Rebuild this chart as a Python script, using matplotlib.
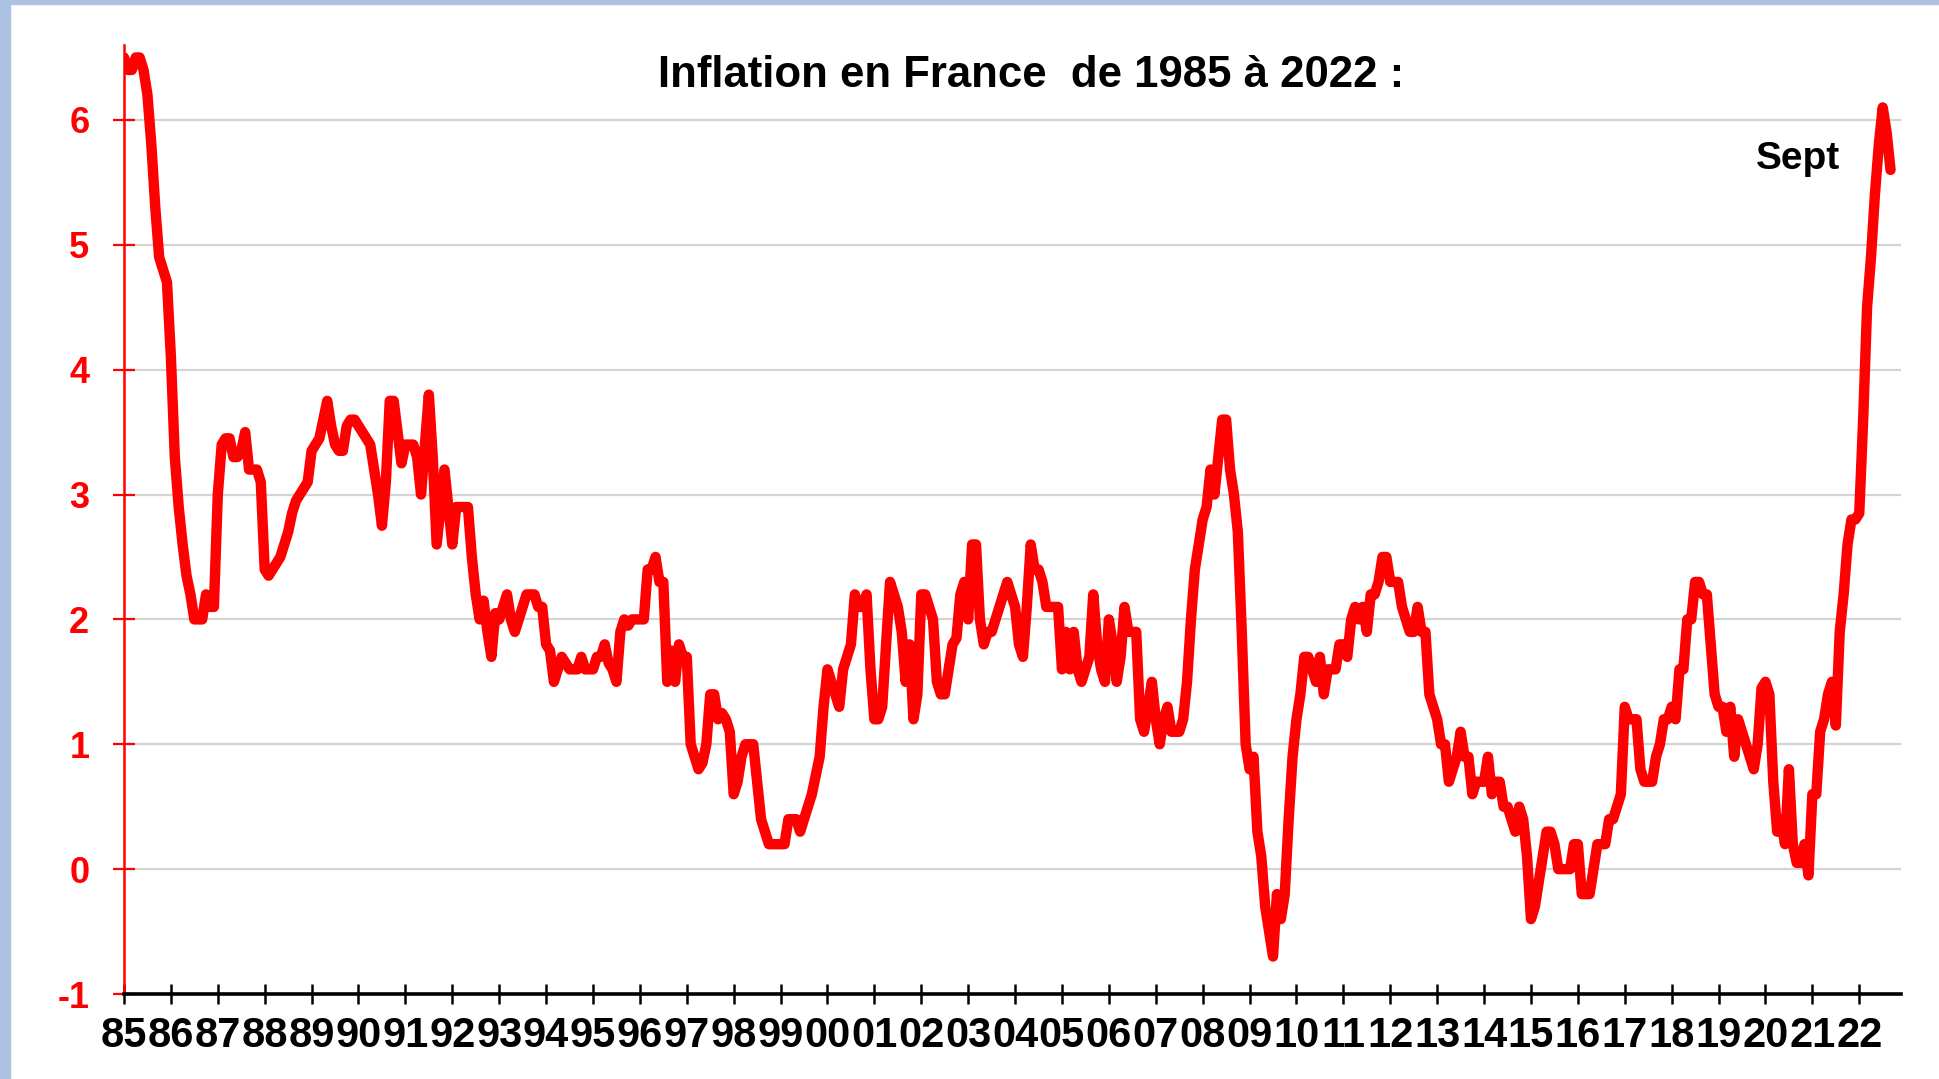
import numpy as np
import matplotlib
matplotlib.use("Agg")
import matplotlib.pyplot as plt

# Inflation mensuelle en France (glissement annuel, %), janv. 1985 -> sept. 2022
infl_1985_1989 = [
    6.5, 6.4, 6.4, 6.5, 6.5, 6.4, 6.2, 5.8, 5.3, 4.9, 4.8, 4.7,
    4.1, 3.3, 2.9, 2.6, 2.35, 2.2, 2.0, 2.0, 2.0, 2.2, 2.1, 2.1,
    3.0, 3.4, 3.45, 3.45, 3.3, 3.3, 3.35, 3.5, 3.2, 3.2, 3.2, 3.1,
    2.4, 2.35, 2.4, 2.45, 2.5, 2.6, 2.7, 2.85, 2.95, 3.0, 3.05, 3.1,
    3.35, 3.4, 3.45, 3.6, 3.75, 3.55, 3.4, 3.35, 3.35, 3.55, 3.6, 3.6,
]
infl_1990_1999 = [
    3.55, 3.5, 3.45, 3.4, 3.2, 3.0, 2.75, 3.1, 3.75, 3.75, 3.5, 3.25,
    3.4, 3.4, 3.4, 3.3, 3.0, 3.4, 3.8, 3.3, 2.6, 2.9, 3.2, 2.9,
    2.6, 2.9, 2.9, 2.9, 2.9, 2.5, 2.2, 2.0, 2.15, 1.9, 1.7, 2.05,
    2.0, 2.1, 2.2, 2.0, 1.9, 2.0, 2.1, 2.2, 2.2, 2.2, 2.1, 2.1,
    1.8, 1.75, 1.5, 1.6, 1.7, 1.65, 1.6, 1.6, 1.6, 1.7, 1.6, 1.6,
    1.6, 1.7, 1.7, 1.8, 1.65, 1.6, 1.5, 1.9, 2.0, 1.95, 2.0, 2.0,
    2.0, 2.0, 2.4, 2.4, 2.5, 2.3, 2.3, 1.5, 1.75, 1.5, 1.8, 1.7,
    1.7, 1.0, 0.9, 0.8, 0.85, 1.0, 1.4, 1.4, 1.2, 1.25, 1.2, 1.1,
    0.6, 0.7, 0.9, 1.0, 1.0, 1.0, 0.7, 0.4, 0.3, 0.2, 0.2, 0.2,
    0.2, 0.2, 0.4, 0.4, 0.4, 0.3, 0.4, 0.5, 0.6, 0.75, 0.9, 1.3,
]
infl_2000_2009 = [
    1.6, 1.5, 1.4, 1.3, 1.6, 1.7, 1.8, 2.2, 2.1, 2.1, 2.2, 1.6,
    1.2, 1.2, 1.3, 1.8, 2.3, 2.2, 2.1, 1.9, 1.5, 1.8, 1.2, 1.4,
    2.2, 2.2, 2.1, 2.0, 1.5, 1.4, 1.4, 1.6, 1.8, 1.85, 2.2, 2.3,
    2.0, 2.6, 2.6, 2.0, 1.8, 1.9, 1.9, 2.0, 2.1, 2.2, 2.3, 2.2,
    2.1, 1.8, 1.7, 2.1, 2.6, 2.4, 2.4, 2.3, 2.1, 2.1, 2.1, 2.1,
    1.6, 1.9, 1.6, 1.9, 1.6, 1.5, 1.6, 1.7, 2.2, 1.8, 1.6, 1.5,
    2.0, 1.8, 1.5, 1.7, 2.1, 1.9, 1.9, 1.9, 1.2, 1.1, 1.3, 1.5,
    1.2, 1.0, 1.2, 1.3, 1.1, 1.1, 1.1, 1.2, 1.5, 2.0, 2.4, 2.6,
    2.8, 2.9, 3.2, 3.0, 3.3, 3.6, 3.6, 3.2, 3.0, 2.7, 1.9, 1.0,
    0.8, 0.9, 0.3, 0.1, -0.3, -0.5, -0.7, -0.2, -0.4, -0.2, 0.4, 0.9,
]
infl_2010_2022 = [
    1.2, 1.4, 1.7, 1.7, 1.6, 1.5, 1.7, 1.4, 1.6, 1.6, 1.6, 1.8,
    1.8, 1.7, 2.0, 2.1, 2.0, 2.1, 1.9, 2.2, 2.2, 2.3, 2.5, 2.5,
    2.3, 2.3, 2.3, 2.1, 2.0, 1.9, 1.9, 2.1, 1.9, 1.9, 1.4, 1.3,
    1.2, 1.0, 1.0, 0.7, 0.8, 0.9, 1.1, 0.9, 0.9, 0.6, 0.7, 0.7,
    0.7, 0.9, 0.6, 0.7, 0.7, 0.5, 0.5, 0.4, 0.3, 0.5, 0.4, 0.1,
    -0.4, -0.3, -0.1, 0.1, 0.3, 0.3, 0.2, 0.0, 0.0, 0.0, 0.0, 0.2,
    0.2, -0.2, -0.2, -0.2, 0.0, 0.2, 0.2, 0.2, 0.4, 0.4, 0.5, 0.6,
    1.3, 1.2, 1.2, 1.2, 0.8, 0.7, 0.7, 0.7, 0.9, 1.0, 1.2, 1.2,
    1.3, 1.2, 1.6, 1.6, 2.0, 2.0, 2.3, 2.3, 2.2, 2.2, 1.8, 1.4,
    1.3, 1.3, 1.1, 1.3, 0.9, 1.2, 1.1, 1.0, 0.9, 0.8, 1.0, 1.45,
    1.5, 1.4, 0.7, 0.3, 0.4, 0.2, 0.8, 0.2, 0.05, 0.05, 0.2, -0.05,
    0.6, 0.6, 1.1, 1.2, 1.4, 1.5, 1.15, 1.9, 2.2, 2.6, 2.8, 2.8,
    2.85, 3.6, 4.5, 4.9, 5.4, 5.8, 6.1, 5.9, 5.6,
]

annees = list(range(1985, 2023))
etiquettes = [str(a)[2:] for a in annees]
graduations_y = [-1, 0, 1, 2, 3, 4, 5, 6]

inflation = np.array(infl_1985_1989 + infl_1990_1999 + infl_2000_2009 + infl_2010_2022)
temps = 1985 + np.arange(len(inflation)) / 12.0

ROUGE = "#ff0000"
BLEU_BORD = "#adc2e3"

fig = plt.figure(figsize=(19.39, 10.79), dpi=100)
fig.patch.set_facecolor("white")

# bordure bleue a gauche et en haut
fig.patches.append(plt.Rectangle((0, 0), 10 / 1939, 1, transform=fig.transFigure,
                                 color=BLEU_BORD, zorder=0))
fig.patches.append(plt.Rectangle((0, 1 - 4 / 1079), 1, 4 / 1079, transform=fig.transFigure,
                                 color=BLEU_BORD, zorder=0))

ax = fig.add_axes([124 / 1939, 85 / 1079, (1901 - 124) / 1939, (1034 - 85) / 1079])
ax.set_facecolor("white")

# quadrillage horizontal
for g in graduations_y[1:]:
    ax.axhline(g, color="#d4d4d4", lw=1.6, zorder=1)

ax.plot(temps, inflation, color=ROUGE, lw=7.5, solid_joinstyle="round",
        solid_capstyle="round", zorder=3)

ax.set_xlim(1985, 2022.89)
ax.set_ylim(-1, 6.6)

ax.spines["top"].set_visible(False)
ax.spines["right"].set_visible(False)
ax.spines["left"].set_color(ROUGE)
ax.spines["left"].set_linewidth(1.8)
ax.spines["bottom"].set_color("black")
ax.spines["bottom"].set_linewidth(2.6)
ax.spines["bottom"].set_zorder(4)

ax.set_yticks(graduations_y)
ax.set_yticklabels([str(v) for v in graduations_y])
ax.tick_params(axis="y", direction="inout", length=16, width=1.6, color=ROUGE,
               labelcolor=ROUGE, pad=17)
for lab in ax.get_yticklabels():
    lab.set_fontfamily(["Liberation Sans Narrow", "Liberation Sans", "DejaVu Sans"])
    lab.set_fontweight("bold")
    lab.set_fontsize(26)

ax.set_xticks(annees)
ax.set_xticklabels(etiquettes)
ax.tick_params(axis="x", direction="inout", length=14, width=1.8, color="black",
               labelcolor="black", pad=9)
for lab in ax.get_xticklabels():
    lab.set_fontfamily(["Liberation Sans", "DejaVu Sans"])
    lab.set_fontweight("bold")
    lab.set_fontsize(30)

fig.text(1031 / 1939, 992 / 1079, "Inflation en France  de 1985 à 2022 :",
         ha="center", va="baseline", fontsize=31.5, fontweight="bold",
         family=["Liberation Sans", "DejaVu Sans"], color="black")

ax.text(2021.6, 5.61, "Sept", ha="right", va="baseline", fontsize=28,
        fontweight="bold", family=["Liberation Sans", "DejaVu Sans"], color="black")

fig.savefig("out.png", dpi=100, facecolor=fig.get_facecolor())
